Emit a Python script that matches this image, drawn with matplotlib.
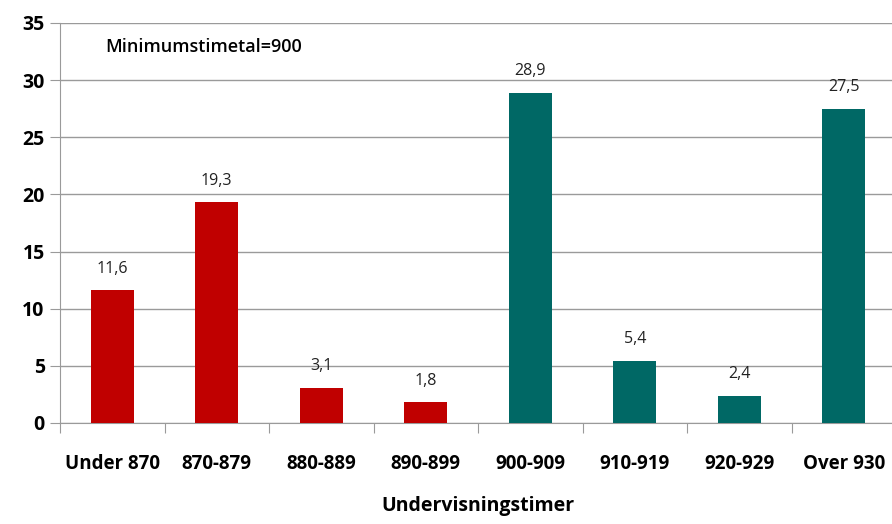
import matplotlib.pyplot as plt
import numpy as np

# Data
categories = ['Under 870', '870-879', '880-889', '890-899', '900-909', '910-919', '920-929', 'Over 930']
values = [11.6, 19.3, 3.1, 1.8, 28.9, 5.4, 2.4, 27.5]
labels = ['11,6', '19,3', '3,1', '1,8', '28,9', '5,4', '2,4', '27,5']
bar_colors = ['#C00000'] * 4 + ['#006865'] * 4

plt.rcParams['font.family'] = ['Open Sans', 'DejaVu Sans']

fig = plt.figure(figsize=(8.92, 5.24), dpi=100)
ax = fig.add_axes([60 / 892, 101 / 524, 836 / 892, 400 / 524])

x = np.arange(len(categories))
ax.bar(x, values, width=0.41, color=bar_colors, zorder=3)

for xi, v, lab in zip(x, values, labels):
    ax.annotate(lab, (xi, v), xytext=(0, 10), textcoords='offset points',
                ha='center', va='bottom', fontsize=11.5, color='#222222')

ax.set_xlim(-0.5, 7.5)
ax.set_ylim(0, 35)
ax.set_yticks(range(0, 36, 5))
ax.yaxis.grid(True, color='#9a9a9a', linewidth=1, zorder=0)

# ticks between categories, labels centred
ax.set_xticks(np.arange(-0.5, 8, 1))
ax.set_xticklabels([])
ax.set_xticks(x, minor=True)
ax.set_xticklabels(categories, minor=True, fontsize=13.5, fontweight='bold')
ax.tick_params(axis='x', which='minor', length=0, pad=22)
ax.tick_params(axis='x', which='major', length=7, color='#9a9a9a')
ax.tick_params(axis='y', length=7, color='#9a9a9a', labelsize=14, pad=4)
for lab in ax.get_yticklabels():
    lab.set_fontweight('bold')

for s in ['top', 'right']:
    ax.spines[s].set_visible(False)
for s in ['left', 'bottom']:
    ax.spines[s].set_color('#9a9a9a')

ax.set_xlabel('Undervisningstimer', fontsize=14, fontweight='bold', labelpad=16)
ax.text(105, 524 - 47, 'Minimumstimetal=900', transform=None, fontsize=13,
        fontweight='semibold', va='center')

fig.savefig('out.png', dpi=100)
